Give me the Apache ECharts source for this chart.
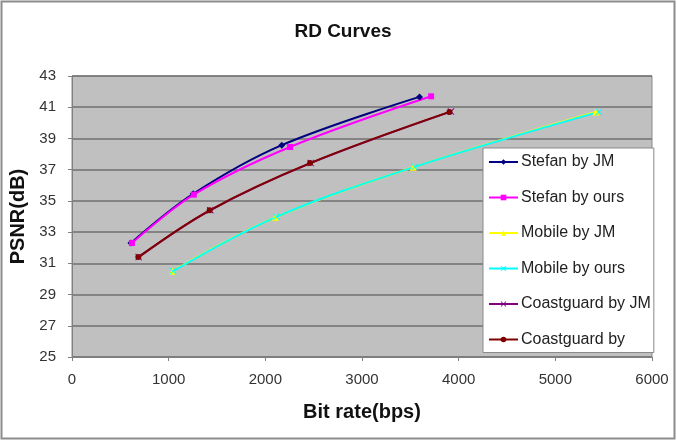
<!DOCTYPE html>
<html>
<head>
<meta charset="utf-8">
<script src="https://cdn.jsdelivr.net/npm/echarts@6/dist/echarts.min.js"></script>
<style>
  html, body { margin: 0; padding: 0; background: #fff; }
  #chart { width: 677px; height: 441px; }
</style>
</head>
<body>
<div id="chart"></div>
<script>
// bit rate (bps) / PSNR (dB) pairs
const stefanJM = [[610, 32.3], [1254, 35.45], [2170, 38.57], [3595, 41.66]];
const stefanOurs = [[620, 32.3], [1260, 35.4], [2255, 38.45], [3715, 41.7]];
const mobileJM = [[1040, 30.5], [2105, 33.95], [3530, 37.15], [5420, 40.7]];
const mobileOurs = [[1045, 30.5], [2115, 33.98], [3545, 37.18], [5450, 40.7]];
const coastJM = [[690, 31.4], [1430, 34.4], [2470, 37.42], [3920, 40.72]];
const coastOurs = [[686, 31.4], [1424, 34.4], [2463, 37.42], [3905, 40.7]];

const xTicks = { min: 0, max: 6000, interval: 1000 };
const yTicks = { min: 25, max: 43, interval: 2 };

const CROSS = 'path://M0,1L1,0L5,4L9,0L10,1L6,5L10,9L9,10L5,6L1,10L0,9L4,5Z';

const SERIES = [
  { name: 'Stefan by JM', data: stefanJM, color: '#000080', symbol: 'diamond', size: 7 },
  { name: 'Stefan by ours', data: stefanOurs, color: '#ff00ff', symbol: 'rect', size: 6 },
  { name: 'Mobile by JM', data: mobileJM, color: '#ffff00', symbol: 'triangle', size: 7 },
  { name: 'Mobile by ours', data: mobileOurs, color: '#00ffff', symbol: CROSS, size: 7 },
  { name: 'Coastguard by JM', data: coastJM, color: '#800080', symbol: CROSS, size: 7 },
  { name: 'Coastguard by', data: coastOurs, color: '#800000', symbol: 'circle', size: 6 },
];

const chart = echarts.init(document.getElementById('chart'));
chart.setOption({
  animation: false,
  backgroundColor: '#fff',
  textStyle: { fontFamily: 'Liberation Sans, Arial, sans-serif' },
  graphic: [{
    type: 'rect',
    shape: { x: 1.5, y: 1.5, width: 673, height: 437 },
    style: { fill: 'none', stroke: '#8c8c8c', lineWidth: 2 },
    silent: true,
  }],
  title: {
    text: 'RD Curves',
    left: 338,
    textAlign: 'center',
    top: 17,
    textStyle: { fontSize: 19, fontWeight: 'bold', color: '#111' },
  },
  grid: {
    left: 71, right: 25, top: 76, bottom: 84,
    show: true,
    backgroundColor: '#c0c0c0',
    borderColor: '#8a8a8a',
    borderWidth: 1,
  },
  legend: {
    orient: 'vertical',
    left: 483,
    top: 148,
    padding: [5, 3, 4, 5],
    itemGap: 17.5,
    itemWidth: 29,
    itemHeight: 7,
    backgroundColor: '#fff',
    borderColor: '#8a8a8a',
    borderWidth: 1,
    textStyle: { fontSize: 16, lineHeight: 18, color: '#222', padding: [0, 0, 0, -2] },
    data: SERIES.map((s) => s.name),
  },
  xAxis: {
    type: 'value',
    min: xTicks.min,
    max: xTicks.max,
    interval: xTicks.interval,
    name: 'Bit rate(bps)',
    nameLocation: 'middle',
    nameGap: 45,
    nameTextStyle: { fontSize: 20, fontWeight: 'bold', color: '#111' },
    axisLine: { lineStyle: { color: '#808080' } },
    axisTick: { show: true, length: 4, lineStyle: { color: '#808080' } },
    axisLabel: { fontSize: 15, color: '#333', margin: 15, formatter: (v) => String(v) },
    splitLine: { show: false },
  },
  yAxis: {
    type: 'value',
    min: yTicks.min,
    max: yTicks.max,
    interval: yTicks.interval,
    name: 'PSNR(dB)',
    nameLocation: 'middle',
    nameGap: 44,
    nameTextStyle: { fontSize: 20, fontWeight: 'bold', color: '#111' },
    axisLine: { show: true, lineStyle: { color: '#808080' } },
    axisTick: { show: true, length: 4, lineStyle: { color: '#808080' } },
    axisLabel: { fontSize: 15, color: '#333', margin: 16 },
    splitLine: { lineStyle: { color: '#707070', width: 1.5 } },
  },
  series: SERIES.map((s) => ({
    name: s.name,
    type: 'line',
    data: s.data,
    smooth: 0.35,
    symbol: s.symbol,
    symbolSize: s.size,
    showSymbol: true,
    lineStyle: { color: s.color, width: 2 },
    itemStyle: { color: s.color },
  })),
});

window.addEventListener('resize', () => chart.resize());
</script>
</body>
</html>
